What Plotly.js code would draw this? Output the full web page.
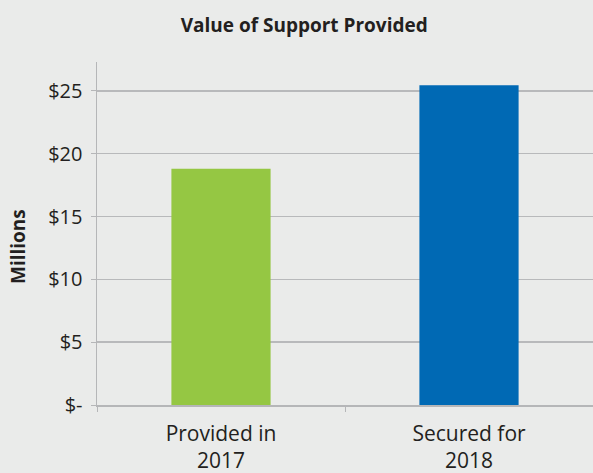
<!DOCTYPE html>
<html><head><meta charset="utf-8">
<script src="https://cdn.plot.ly/plotly-3.0.1.min.js"></script>
<style>html,body{margin:0;padding:0;background:#eaebea;}</style>
</head><body>
<div id="chart" style="width:593px;height:473px;"></div>
<script>
const categories = ["Provided in<br>2017", "Secured for<br>2018"];
const values = [18.8, 25.45];
const barColors = ["#95c743", "#0069b4"];
const tickVals = [0, 5, 10, 15, 20, 25];
const tickText = ["$-", "$5", "$10", "$15", "$20", "$25"];

const font = "Open Sans, sans-serif";
const data = [{
  type: "bar",
  x: categories,
  y: values,
  marker: {color: barColors},
  hoverinfo: "none"
}];
const layout = {
  width: 593, height: 473,
  paper_bgcolor: "#eaebea", plot_bgcolor: "#eaebea",
  margin: {l: 97, r: 0, t: 62, b: 68},
  bargap: 0.6,
  showlegend: false,
  font: {family: font, color: "#231f20"},
  title: {text: "<b>Value of Support Provided</b>", x: 0.513, xanchor: "center", y: 0.947, yanchor: "middle", font: {family: font, size: 19, color: "#231f20"}},
  xaxis: {
    type: "category",
    showgrid: false,
    showline: true, linecolor: "#b5b6b8", linewidth: 1.5,
    ticks: "outside", tickson: "boundaries", ticklen: 5, tickcolor: "#b5b6b8",
    ticklabelstandoff: 9,
    tickfont: {family: font, size: 21, color: "#231f20"},
    zeroline: false
  },
  yaxis: {
    range: [0, 27.3],
    tickvals: tickVals, ticktext: tickText,
    showgrid: true, gridcolor: "#b8b9bb", gridwidth: 1.5,
    showline: true, linecolor: "#b5b6b8", linewidth: 1.5,
    ticks: "outside", ticklen: 5, tickcolor: "#b5b6b8",
    ticklabelstandoff: 4,
    tickfont: {family: font, size: 20, color: "#231f20"},
    zeroline: false
  },
  annotations: [{
    text: "<b>Millions</b>", textangle: -90,
    xref: "paper", yref: "paper",
    x: (18 - 97) / 496, y: (405 - 247) / 343,
    xanchor: "center", yanchor: "middle", showarrow: false,
    font: {family: font, size: 19, color: "#231f20"}
  }]
};
Plotly.newPlot("chart", data, layout, {displayModeBar: false, staticPlot: true});
</script>
</body></html>
